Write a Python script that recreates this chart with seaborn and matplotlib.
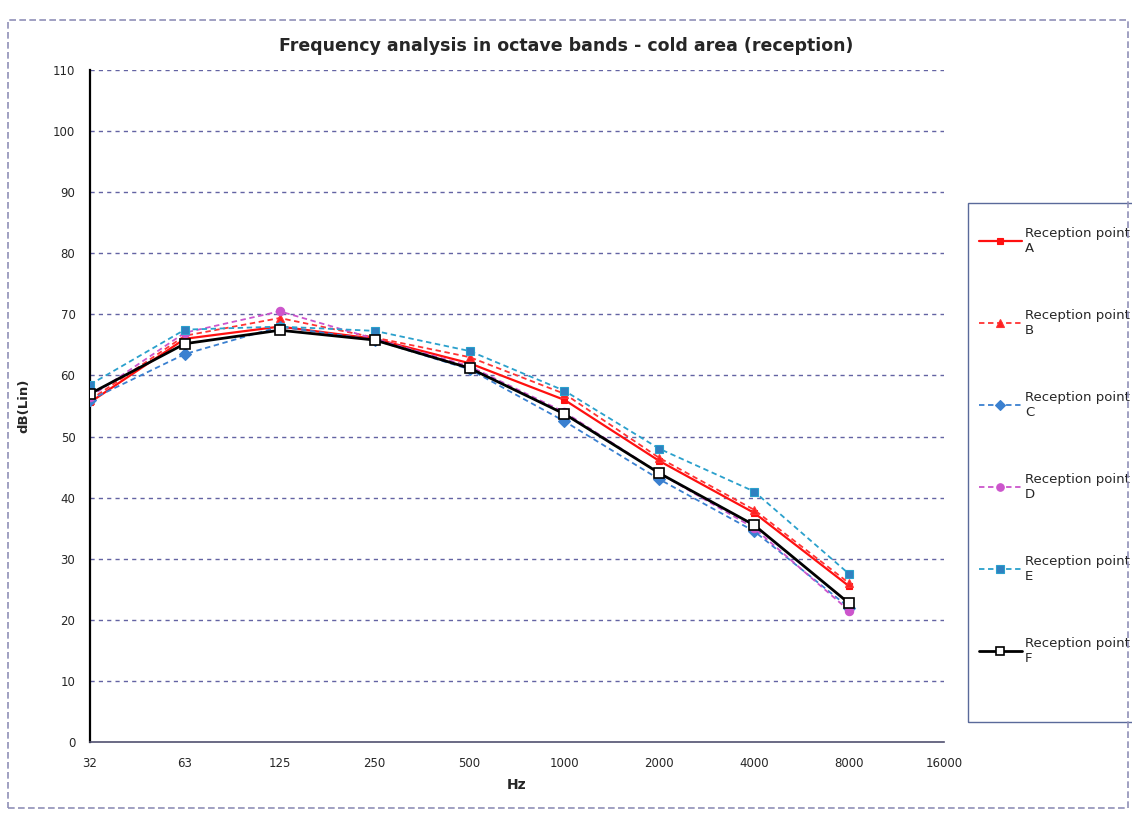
import matplotlib
matplotlib.use("Agg")
import matplotlib.pyplot as plt
import seaborn as sns
import pandas as pd
import numpy as np
from matplotlib.patches import Rectangle

freqs = ["32", "63", "125", "250", "500", "1000", "2000", "4000", "8000", "16000"]
series_names = ["Reception point\nA", "Reception point\nB", "Reception point\nC",
                "Reception point\nD", "Reception point\nE", "Reception point\nF"]
vals_A = [55.6, 66.0, 68.0, 66.0, 62.0, 56.0, 46.0, 37.5, 25.5]
vals_B = [56.0, 66.5, 69.4, 66.2, 63.0, 57.0, 46.5, 38.0, 26.0]
vals_C = [56.0, 63.5, 68.0, 65.8, 61.0, 52.5, 43.0, 34.5, 22.0]
vals_D = [56.5, 67.0, 70.5, 66.0, 61.5, 54.0, 44.0, 35.0, 21.5]
vals_E = [58.5, 67.5, 68.0, 67.3, 64.0, 57.5, 48.0, 41.0, 27.5]
vals_F = [57.0, 65.2, 67.4, 65.8, 61.2, 53.7, 44.0, 35.5, 22.7]
all_vals = [vals_A, vals_B, vals_C, vals_D, vals_E, vals_F]

colors = ["#ff1010", "#ff3333", "#3a80d0", "#cc55cc", "#2aa0cc", "#000000"]
markers = ["s", "^", "D", "o", "s", "s"]
lstyles = ["-", (0, (3, 2)), (0, (3, 2)), (0, (3, 2)), (0, (3, 2)), "-"]
lwidths = [1.6, 1.3, 1.3, 1.3, 1.3, 2.0]
mfaces = ["#ff1010", "#ff2020", "#3a80d0", "#cc55cc", "#3080c0", "white"]
msizes = [5, 6, 6, 6, 6, 7]

rows = []
for name, vals in zip(series_names, all_vals):
    for i, v in enumerate(vals):
        rows.append({"series": name, "pos": i, "value": v})
df = pd.DataFrame(rows)

sns.set_style("white")
plt.rcParams['font.family'] = ['DejaVu Sans']

fig = plt.figure(figsize=(11.32, 8.22), dpi=100)
fig.patch.set_facecolor("white")
ax = fig.add_axes([90/1132, 1-742/822, (944-90)/1132, (742-70)/822])

for k, name in enumerate(series_names):
    sub = df[df["series"] == name]
    sns.lineplot(data=sub, x="pos", y="value", ax=ax, color=colors[k],
                 marker=markers[k], linestyle=lstyles[k], linewidth=lwidths[k],
                 markersize=msizes[k], markerfacecolor=mfaces[k],
                 markeredgecolor=colors[k] if k != 5 else "black",
                 markeredgewidth=1.2 if k == 5 else 0.8,
                 label=name, zorder=3 + (k == 5))

ax.set_xlim(0, len(freqs) - 1)
ax.set_ylim(0, 110)
ax.set_xticks(range(len(freqs)))
ax.set_xticklabels(freqs, fontsize=8.5)
ax.set_yticks(np.arange(0, 111, 10))
ax.set_yticklabels([str(v) for v in range(0, 111, 10)], fontsize=8.5)
for y in range(10, 111, 10):
    ax.axhline(y, color="#3c3c8c", linestyle=(0, (3, 3)), linewidth=1.0, zorder=1, alpha=0.8)
for s in ["top", "right"]:
    ax.spines[s].set_visible(False)
ax.spines["left"].set_color("black")
ax.spines["left"].set_linewidth(1.6)
ax.spines["bottom"].set_color("#505070")
ax.spines["bottom"].set_linewidth(1.2)
ax.tick_params(axis="both", direction="inout", length=5, width=1, pad=8)

ax.set_xlabel("Hz", fontsize=10, fontweight="bold", labelpad=6)
ax.set_ylabel("dB(Lin)", fontsize=9.5, fontweight="bold", labelpad=16)
fig.text(566/1132, 1-46/822, "Frequency analysis in octave bands - cold area (reception)",
         ha="center", va="center", fontsize=12.5, fontweight="bold")

leg = ax.legend(loc="upper left", bbox_to_anchor=(972/1132, 1-220/822),
                bbox_transform=fig.transFigure, frameon=False, fontsize=9.5,
                labelspacing=4.1, handlelength=3.3, borderpad=0,
                handletextpad=0.2, markerscale=0.9)

fig.patches.append(Rectangle((968/1132, 1-722/822), (1140-968)/1132, (722-203)/822,
                             transform=fig.transFigure, fill=False,
                             edgecolor="#5a6a9a", linewidth=1.0))
fig.patches.append(Rectangle((8/1132, 1-808/822), (1128-8)/1132, (808-20)/822,
                             transform=fig.transFigure, fill=False,
                             edgecolor="#9090b8", linewidth=1.2, linestyle=(0, (4, 2))))

fig.savefig("out.png", dpi=100, facecolor="white")
